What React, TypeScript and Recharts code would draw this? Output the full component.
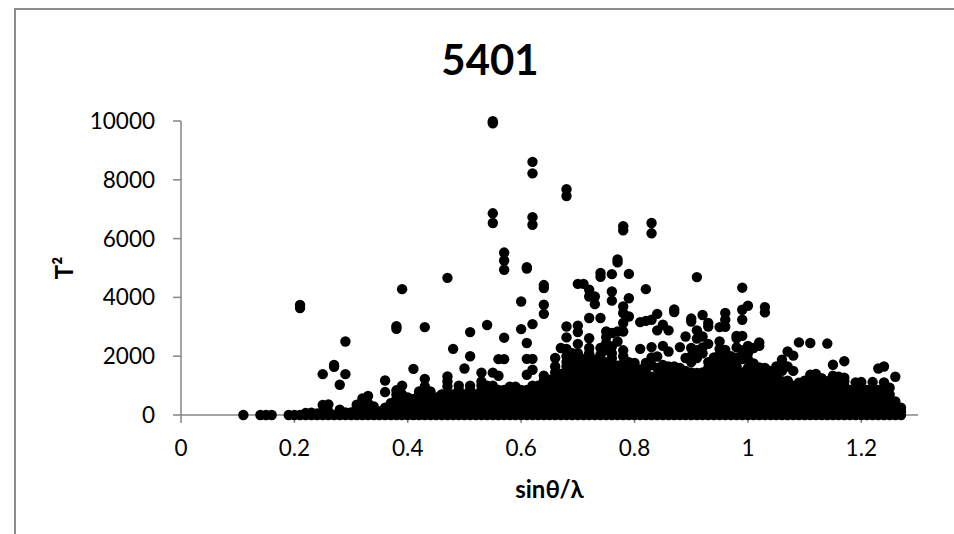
import React from "react";
import { ScatterChart, Scatter, XAxis, YAxis } from "recharts";

const TITLE = "5401";
const xTicks = [0, 0.2, 0.4, 0.6, 0.8, 1, 1.2];
const yTicks = [0, 2000, 4000, 6000, 8000, 10000];

// Isolated points above the dense band: [sinθ/λ, T²]
const upperPoints: [number, number][] = [
  [0.55,9990],[0.55,9920],[0.62,8610],[0.62,8220],[0.68,7680],[0.68,7450],[0.55,6860],[0.55,6530],[0.62,6730],[0.62,6470],
  [0.78,6420],[0.78,6280],[0.83,6530],[0.83,6180],[0.57,5525],[0.57,5255],[0.57,4940],[0.77,5290],[0.77,5190],[0.61,5030],[0.61,4980],
  [0.47,4665],[0.91,4690],[0.74,4830],[0.74,4700],[0.76,4790],[0.79,4800],[0.99,4330],[0.39,4280],[0.82,4280],[0.64,4420],[0.64,4320],
  [0.70,4460],[0.71,4460],[0.72,4260],[0.72,4030],[0.73,4030],[0.73,3770],[0.76,4200],[0.76,3890],[0.79,3970],[0.60,3860],
  [0.64,3750],[0.64,3440],[1.00,3715],[1.03,3670],[1.03,3490],[0.21,3740],[0.21,3640],[0.99,3580],[0.99,3240],[0.78,3690],[0.78,3470],
  [0.79,3350],[0.87,3590],[0.87,3500],[0.84,3440],[0.92,3400],[0.96,3470],[0.96,3240],[0.72,3300],[0.74,3300],[0.62,3090],[0.54,3060],
  [0.81,3160],[0.82,3200],[0.83,3240],[0.85,3070],[0.90,3280],[0.90,3180],[0.93,3130],[0.93,3010],[0.78,3130],[0.68,3010],[0.70,3040],
  [0.38,3020],[0.38,2930],[0.43,2990],[0.95,2990],[0.96,3000],[0.60,2920],[0.51,2820],[0.70,2820],[0.75,2840],[0.77,2840],[0.78,2840],
  [0.76,2790],[0.84,2880],[0.86,2880],[0.91,2880],[0.98,2690],[0.98,2610],[0.99,2690],[0.89,2670],[0.92,2670],[0.68,2640],[0.72,2610],[0.57,2630],
  [0.29,2500],[0.95,2500],[0.61,2450],[0.70,2420],[0.93,2420],[1.02,2470],[1.09,2470],[1.11,2450],[1.14,2430],[0.85,2350],[1.00,2350],[1.02,2350],
  [0.76,2330],[0.83,2310],[0.88,2310],[0.67,2280],[0.72,2280],[0.74,2280],[0.90,2280],[1.01,2280],[0.48,2250],[0.68,2250],[0.81,2250],
  [0.75,2200],[0.96,2210],[0.86,2160],[1.07,2160],[1.08,2020],[0.51,2000],[0.84,1990],[0.83,1960],[0.66,1940],[0.69,1950],[0.76,1930],
  [0.89,1940],[0.91,1940],[0.94,1960],[0.95,1940],[0.56,1900],[0.57,1900],[0.61,1910],[0.62,1910],[0.73,1880],[1.06,1880],[1.17,1830],
  [0.80,1770],[0.82,1770],[1.01,1750],[1.15,1710],[0.27,1700],[0.27,1640],[0.66,1650],[0.68,1650],[0.74,1650],[0.77,1680],[0.87,1650],[0.93,1600],
  [1.05,1650],[1.07,1650],[1.02,1620],[1.03,1600],[1.24,1650],[1.23,1580],[0.41,1570],[0.50,1580],[0.62,1540],[0.79,1570],[0.84,1600],
  [0.89,1500],[0.91,1430],[0.53,1440],[0.55,1440],[0.25,1390],[0.29,1390],[0.61,1370],[0.82,1370],[1.11,1370],[1.12,1400],[0.56,1335],[0.64,1335],
  [1.15,1335],[1.26,1300],[0.47,1310],[0.43,1230],[0.36,1175],[0.53,1140],[0.47,1140],[1.16,1300],[1.17,1270],[1.07,1170],[1.10,1170],[1.19,1110],[1.20,1120],
  [1.22,1120],[1.24,1110],[0.28,1030],[0.39,1000],[0.49,1000],[0.51,1000],[0.43,970],[0.47,970],[0.58,960],[0.59,960],[1.25,930],[0.38,840],
  [0.42,800],[0.44,800],[0.36,780],[0.33,650],[0.46,690],[0.32,560],[0.40,600],[0.45,600],[0.31,350],[1.26,460],[0.34,290],[1.27,250],[0.25,340],[0.26,360],
  [0.28,180],[0.22,70],[0.23,80],[0.24,50],[0.29,90],[0.30,90],
];

// Points joining the upper scatter to the dense band
const midPoints: [number, number][] = [
  [0.68,2000],[0.68,1800],[0.68,1500],[0.70,2100],[0.70,1800],[0.70,1600],[0.72,2100],[0.72,1900],[0.72,1600],[0.74,1900],[0.74,1500],[0.76,2100],[0.76,1750],[0.76,1550],
  [0.77,1500],[0.78,2200],[0.78,2000],[0.78,1750],[0.78,1500],[0.75,2450],[0.75,2650],[0.75,1800],[0.75,1600],[0.77,2500],[0.73,1600],[0.73,1400],[0.71,1500],[0.69,1700],[0.69,1500],[0.66,1450],[0.67,1400],
  [0.79,1800],[0.79,1400],[0.81,1550],[0.80,1500],[0.82,1550],[0.71,1700],[0.71,1900],[0.69,2100],[0.74,2050],
  [0.97,2000],[0.97,1800],[0.98,2300],[0.98,1950],[0.99,2200],[0.99,1900],[1.00,2100],[1.00,1900],[0.95,2250],[0.95,2050],[0.95,1750],[0.96,2000],[0.96,1700],
  [0.90,2000],[0.90,1800],[0.92,2300],[0.92,2100],[0.91,2600],[0.91,2200],[0.93,1800],[0.94,1700],[0.85,1700],[0.86,1650],[0.83,1700],[0.88,1600],
  [1.04,1500],[1.05,1450],[1.06,1700],[1.06,1500],[1.08,1500],[1.01,1550],[1.00,1600],[0.98,1650],[0.97,1550],[1.13,1250],[1.14,1150],[1.09,1100],
  [0.64,1150],[0.65,1200],[0.66,1200],[0.67,1250],
];

// Dense band: each row lists the x values (hundredths of sinθ/λ) drawn at that T² level
const rowLevels = [0, 120, 250, 400, 550, 700, 850, 1000, 1150, 1300, 1450];
const row0 = [11,14,15,16,19,20,21,22,23,24,25,26,27,28,29,30,31,32,33,34,35,36,37,38,39,40,41,42,43,44,45,46,47,48,49,50,51,52,53,54,55,56,57,58,59,60,61,62,63,64,65,66,67,68,69,70,71,72,73,74,75,76,77,78,79,80,81,82,83,84,85,86,87,88,89,90,91,92,93,94,95,96,97,98,99,100,101,102,103,104,105,106,107,108,109,110,111,112,113,114,115,116,117,118,119,120,121,122,123,124,125,126,127];
const row120 = [25,26,31,32,33,34,35,36,37,38,39,40,41,42,43,44,45,46,47,48,49,50,51,52,53,54,55,56,57,58,59,60,61,62,63,64,65,66,67,68,69,70,71,72,73,74,75,76,77,78,79,80,81,82,83,84,85,86,87,88,89,90,91,92,93,94,95,96,97,98,99,100,101,102,103,104,105,106,107,108,109,110,111,112,113,114,115,116,117,118,119,120,121,122,123,124,125,126,127];
const row250 = [31,32,33,36,37,38,39,40,41,42,43,44,45,46,47,48,49,50,51,52,53,54,55,56,57,58,59,60,61,62,63,64,65,66,67,68,69,70,71,72,73,74,75,76,77,78,79,80,81,82,83,84,85,86,87,88,89,90,91,92,93,94,95,96,97,98,99,100,101,102,103,104,105,106,107,108,109,110,111,112,113,114,115,116,117,118,119,120,121,122,123,124,125,126];
const row400 = [32,33,37,38,39,40,41,42,43,44,45,46,47,48,49,50,51,52,53,54,55,56,57,58,59,60,61,62,63,64,65,66,67,68,69,70,71,72,73,74,75,76,77,78,79,80,81,82,83,84,85,86,87,88,89,90,91,92,93,94,95,96,97,98,99,100,101,102,103,104,105,106,107,108,109,110,111,112,113,114,115,116,117,118,119,120,121,122,123,124,125];
const row550 = [38,39,40,41,42,43,44,45,46,47,48,49,50,51,52,53,54,55,56,57,58,59,60,61,62,63,64,65,66,67,68,69,70,71,72,73,74,75,76,77,78,79,80,81,82,83,84,85,86,87,88,89,90,91,92,93,94,95,96,97,98,99,100,101,102,103,104,105,106,107,108,109,110,111,112,113,114,115,116,117,118,119,120,121,122,123,124,125];
const row700 = [38,39,42,43,44,46,47,48,49,50,51,52,53,54,55,56,57,58,59,60,61,62,63,64,65,66,67,68,69,70,71,72,73,74,75,76,77,78,79,80,81,82,83,84,85,86,87,88,89,90,91,92,93,94,95,96,97,98,99,100,101,102,103,104,105,106,107,108,109,110,111,112,113,114,115,116,117,118,119,120,121,122,123,124,125];
const row850 = [49,51,53,54,55,56,57,58,59,60,61,62,63,64,65,66,67,68,69,70,71,72,73,74,75,76,77,78,79,80,81,82,83,84,85,86,87,88,89,90,91,92,93,94,95,96,97,98,99,100,101,102,103,104,105,106,107,108,109,110,111,112,113,114,115,116,117,118,119,120,121,122,123,124];
const row1000 = [53,54,55,62,63,64,65,66,67,68,69,70,71,72,73,74,75,76,77,78,79,80,81,82,83,84,85,86,87,88,89,90,91,92,93,94,95,96,97,98,99,100,101,102,103,104,105,106,107,108,110,111,112,113,115,116,117];
const row1150 = [64,66,68,69,70,71,72,73,74,75,76,77,78,79,80,81,82,83,84,85,86,87,88,89,90,91,92,93,94,95,96,97,98,99,100,101,102,103,104,105,106,107,111,112,115,116,117];
const row1300 = [68,69,70,72,74,75,76,77,78,80,81,83,84,85,86,87,88,89,90,91,92,93,94,95,96,97,98,99,100,101,102,103,104,105];
const row1450 = [85,86,87,88,90,92,93,94,95,96,97,98,99,100,101,103];
const rows = [row0, row120, row250, row400, row550, row700, row850, row1000, row1150, row1300, row1450];

const chartData = [
  ...rows.flatMap((row, i) => row.map((h) => ({ x: h / 100, y: rowLevels[i] }))),
  ...midPoints.map(([x, y]) => ({ x, y })),
  ...upperPoints.map(([x, y]) => ({ x, y })),
];

const FONT = "Lato, 'Noto Sans', sans-serif";
const AXIS = "#868686";

const Dot = (props: any) => <circle cx={props.cx} cy={props.cy} r={5.2} fill="#000" />;

export default function App() {
  return (
    <div style={{ position: "absolute", left: 0, top: 0, width: 954, height: 534, overflow: "hidden", background: "#fff" }}>
      <div style={{ position: "absolute", left: 14, top: 8, width: 960, height: 560, borderTop: "2px solid #8c8c8c", borderLeft: "2px solid #8c8c8c" }} />
      <ScatterChart width={954} height={534} margin={{ top: 121, right: 36, bottom: 79, left: 121 }} style={{ position: "absolute", left: 0, top: 0 }}>
        <text x={490} y={75} textAnchor="middle" fontFamily={FONT} fontWeight={700} fontSize={42} fill="#000">{TITLE}</text>
        <XAxis
          type="number"
          dataKey="x"
          domain={[0, 1.3]}
          ticks={xTicks}
          height={40}
          interval={0}
          tickSize={8}
          tickMargin={17}
          tick={{ fontFamily: FONT, fontSize: 22.5, fill: "#000" }}
          axisLine={{ stroke: AXIS, strokeWidth: 1.5 }}
          tickLine={{ stroke: AXIS, strokeWidth: 1.5 }}
          label={{ value: "sinθ/λ", position: "bottom", offset: 26, style: { fontFamily: FONT, fontWeight: 700, fontSize: 24, fill: "#000" } }}
        />
        <YAxis
          type="number"
          dataKey="y"
          domain={[0, 10000]}
          ticks={yTicks}
          width={60}
          interval={0}
          tickSize={8}
          tickMargin={18}
          tick={{ fontFamily: FONT, fontSize: 22.5, fill: "#000" }}
          axisLine={{ stroke: AXIS, strokeWidth: 1.5 }}
          tickLine={{ stroke: AXIS, strokeWidth: 1.5 }}
          label={{ value: "T²", angle: -90, position: "insideLeft", offset: -57, style: { fontFamily: FONT, fontWeight: 700, fontSize: 24, fill: "#000", textAnchor: "middle" } }}
        />
        <Scatter data={chartData} shape={Dot} isAnimationActive={false} />
      </ScatterChart>
    </div>
  );
}
